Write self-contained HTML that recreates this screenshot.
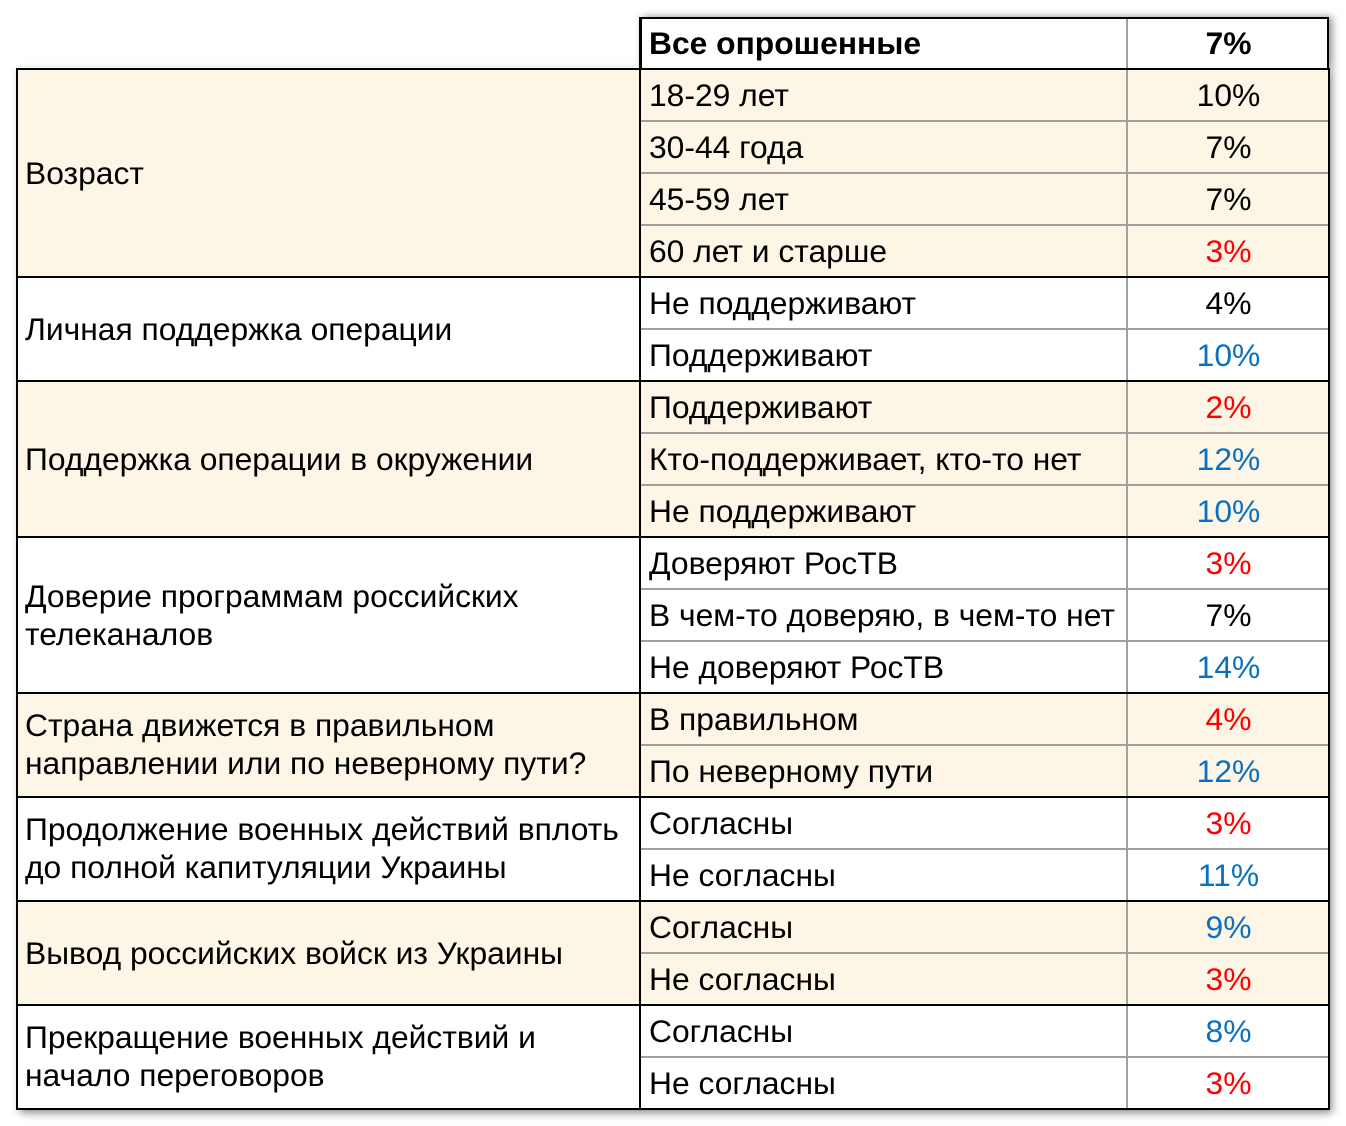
<!DOCTYPE html>
<html><head><meta charset="utf-8"><style>
body{margin:0;width:1346px;height:1126px;background:#fff;font-family:"Liberation Sans",Arial,sans-serif;position:relative;overflow:hidden}
.a{position:absolute;box-sizing:border-box}
.c{background:#fdf6e6}
.t{position:absolute;font-size:31.8px;color:#000;white-space:nowrap;line-height:38px}
.r{color:#ff0000}.b{color:#0a70c0}
</style></head><body>
<div class="a" style="left:17px;top:67px;width:1312px;height:1042px;box-shadow:3px 4px 8px rgba(0,0,0,0.45)"></div>
<div class="a" style="left:640px;top:17px;width:689px;height:52px;box-shadow:3px 0px 8px rgba(0,0,0,0.45)"></div>
<div class="a" style="left:640px;top:17px;width:689px;height:53px;background:#fff;border:2px solid #000"></div>
<div class="a" style="left:17px;top:69px;width:1312px;height:1040px;background:#fff"></div>
<div class="a c" style="left:17px;top:69px;width:1312px;height:208px"></div>
<div class="a c" style="left:17px;top:381px;width:1312px;height:156px"></div>
<div class="a c" style="left:17px;top:693px;width:1312px;height:104px"></div>
<div class="a c" style="left:17px;top:901px;width:1312px;height:104px"></div>
<div class="a" style="left:641px;top:120px;width:688px;height:2px;background:#a0a0a0"></div>
<div class="a" style="left:641px;top:172px;width:688px;height:2px;background:#a0a0a0"></div>
<div class="a" style="left:641px;top:224px;width:688px;height:2px;background:#a0a0a0"></div>
<div class="a" style="left:641px;top:328px;width:688px;height:2px;background:#a0a0a0"></div>
<div class="a" style="left:641px;top:432px;width:688px;height:2px;background:#a0a0a0"></div>
<div class="a" style="left:641px;top:484px;width:688px;height:2px;background:#a0a0a0"></div>
<div class="a" style="left:641px;top:588px;width:688px;height:2px;background:#a0a0a0"></div>
<div class="a" style="left:641px;top:640px;width:688px;height:2px;background:#a0a0a0"></div>
<div class="a" style="left:641px;top:744px;width:688px;height:2px;background:#a0a0a0"></div>
<div class="a" style="left:641px;top:848px;width:688px;height:2px;background:#a0a0a0"></div>
<div class="a" style="left:641px;top:952px;width:688px;height:2px;background:#a0a0a0"></div>
<div class="a" style="left:641px;top:1056px;width:688px;height:2px;background:#a0a0a0"></div>
<div class="a" style="left:1126px;top:17px;width:2px;height:1092px;background:#a0a0a0"></div>
<div class="a" style="left:17px;top:276px;width:1312px;height:2px;background:#000"></div>
<div class="a" style="left:17px;top:380px;width:1312px;height:2px;background:#000"></div>
<div class="a" style="left:17px;top:536px;width:1312px;height:2px;background:#000"></div>
<div class="a" style="left:17px;top:692px;width:1312px;height:2px;background:#000"></div>
<div class="a" style="left:17px;top:796px;width:1312px;height:2px;background:#000"></div>
<div class="a" style="left:17px;top:900px;width:1312px;height:2px;background:#000"></div>
<div class="a" style="left:17px;top:1004px;width:1312px;height:2px;background:#000"></div>
<div class="a" style="left:639px;top:17px;width:2px;height:1092px;background:#000"></div>
<div class="a" style="left:640px;top:17px;width:689px;height:53px;border:2px solid #000;border-bottom:none"></div>
<div class="a" style="left:16px;top:68px;width:1314px;height:1042px;border:2px solid #000"></div>

<div class="t" style="left:649px;top:24px;font-weight:bold">Все опрошенные</div>
<div class="t" style="left:1128px;width:201px;text-align:center;top:24px;font-weight:bold">7%</div>

<div class="t" style="left:25px;top:154px">Возраст</div>
<div class="t" style="left:25px;top:310px">Личная поддержка операции</div>
<div class="t" style="left:25px;top:440px">Поддержка операции в окружении</div>
<div class="t" style="left:25px;top:577px">Доверие программам российских<br>телеканалов</div>
<div class="t" style="left:25px;top:706px">Страна движется в правильном<br>направлении или по неверному пути?</div>
<div class="t" style="left:25px;top:810px">Продолжение военных действий вплоть<br>до полной капитуляции Украины</div>
<div class="t" style="left:25px;top:934px">Вывод российских войск из Украины</div>
<div class="t" style="left:25px;top:1018px">Прекращение военных действий и<br>начало переговоров</div>

<div class="t" style="left:649px;top:76px">18-29 лет</div>
<div class="t" style="left:649px;top:128px">30-44 года</div>
<div class="t" style="left:649px;top:180px">45-59 лет</div>
<div class="t" style="left:649px;top:232px">60 лет и старше</div>
<div class="t" style="left:649px;top:284px">Не поддерживают</div>
<div class="t" style="left:649px;top:336px">Поддерживают</div>
<div class="t" style="left:649px;top:388px">Поддерживают</div>
<div class="t" style="left:649px;top:440px">Кто-поддерживает, кто-то нет</div>
<div class="t" style="left:649px;top:492px">Не поддерживают</div>
<div class="t" style="left:649px;top:544px">Доверяют РосТВ</div>
<div class="t" style="left:649px;top:596px">В чем-то доверяю, в чем-то нет</div>
<div class="t" style="left:649px;top:648px">Не доверяют РосТВ</div>
<div class="t" style="left:649px;top:700px">В правильном</div>
<div class="t" style="left:649px;top:752px">По неверному пути</div>
<div class="t" style="left:649px;top:804px">Согласны</div>
<div class="t" style="left:649px;top:856px">Не согласны</div>
<div class="t" style="left:649px;top:908px">Согласны</div>
<div class="t" style="left:649px;top:960px">Не согласны</div>
<div class="t" style="left:649px;top:1012px">Согласны</div>
<div class="t" style="left:649px;top:1064px">Не согласны</div>

<div class="t" style="left:1128px;width:201px;text-align:center;top:76px">10%</div>
<div class="t" style="left:1128px;width:201px;text-align:center;top:128px">7%</div>
<div class="t" style="left:1128px;width:201px;text-align:center;top:180px">7%</div>
<div class="t r" style="left:1128px;width:201px;text-align:center;top:232px">3%</div>
<div class="t" style="left:1128px;width:201px;text-align:center;top:284px">4%</div>
<div class="t b" style="left:1128px;width:201px;text-align:center;top:336px">10%</div>
<div class="t r" style="left:1128px;width:201px;text-align:center;top:388px">2%</div>
<div class="t b" style="left:1128px;width:201px;text-align:center;top:440px">12%</div>
<div class="t b" style="left:1128px;width:201px;text-align:center;top:492px">10%</div>
<div class="t r" style="left:1128px;width:201px;text-align:center;top:544px">3%</div>
<div class="t" style="left:1128px;width:201px;text-align:center;top:596px">7%</div>
<div class="t b" style="left:1128px;width:201px;text-align:center;top:648px">14%</div>
<div class="t r" style="left:1128px;width:201px;text-align:center;top:700px">4%</div>
<div class="t b" style="left:1128px;width:201px;text-align:center;top:752px">12%</div>
<div class="t r" style="left:1128px;width:201px;text-align:center;top:804px">3%</div>
<div class="t b" style="left:1128px;width:201px;text-align:center;top:856px">11%</div>
<div class="t b" style="left:1128px;width:201px;text-align:center;top:908px">9%</div>
<div class="t r" style="left:1128px;width:201px;text-align:center;top:960px">3%</div>
<div class="t b" style="left:1128px;width:201px;text-align:center;top:1012px">8%</div>
<div class="t r" style="left:1128px;width:201px;text-align:center;top:1064px">3%</div>
</body></html>
